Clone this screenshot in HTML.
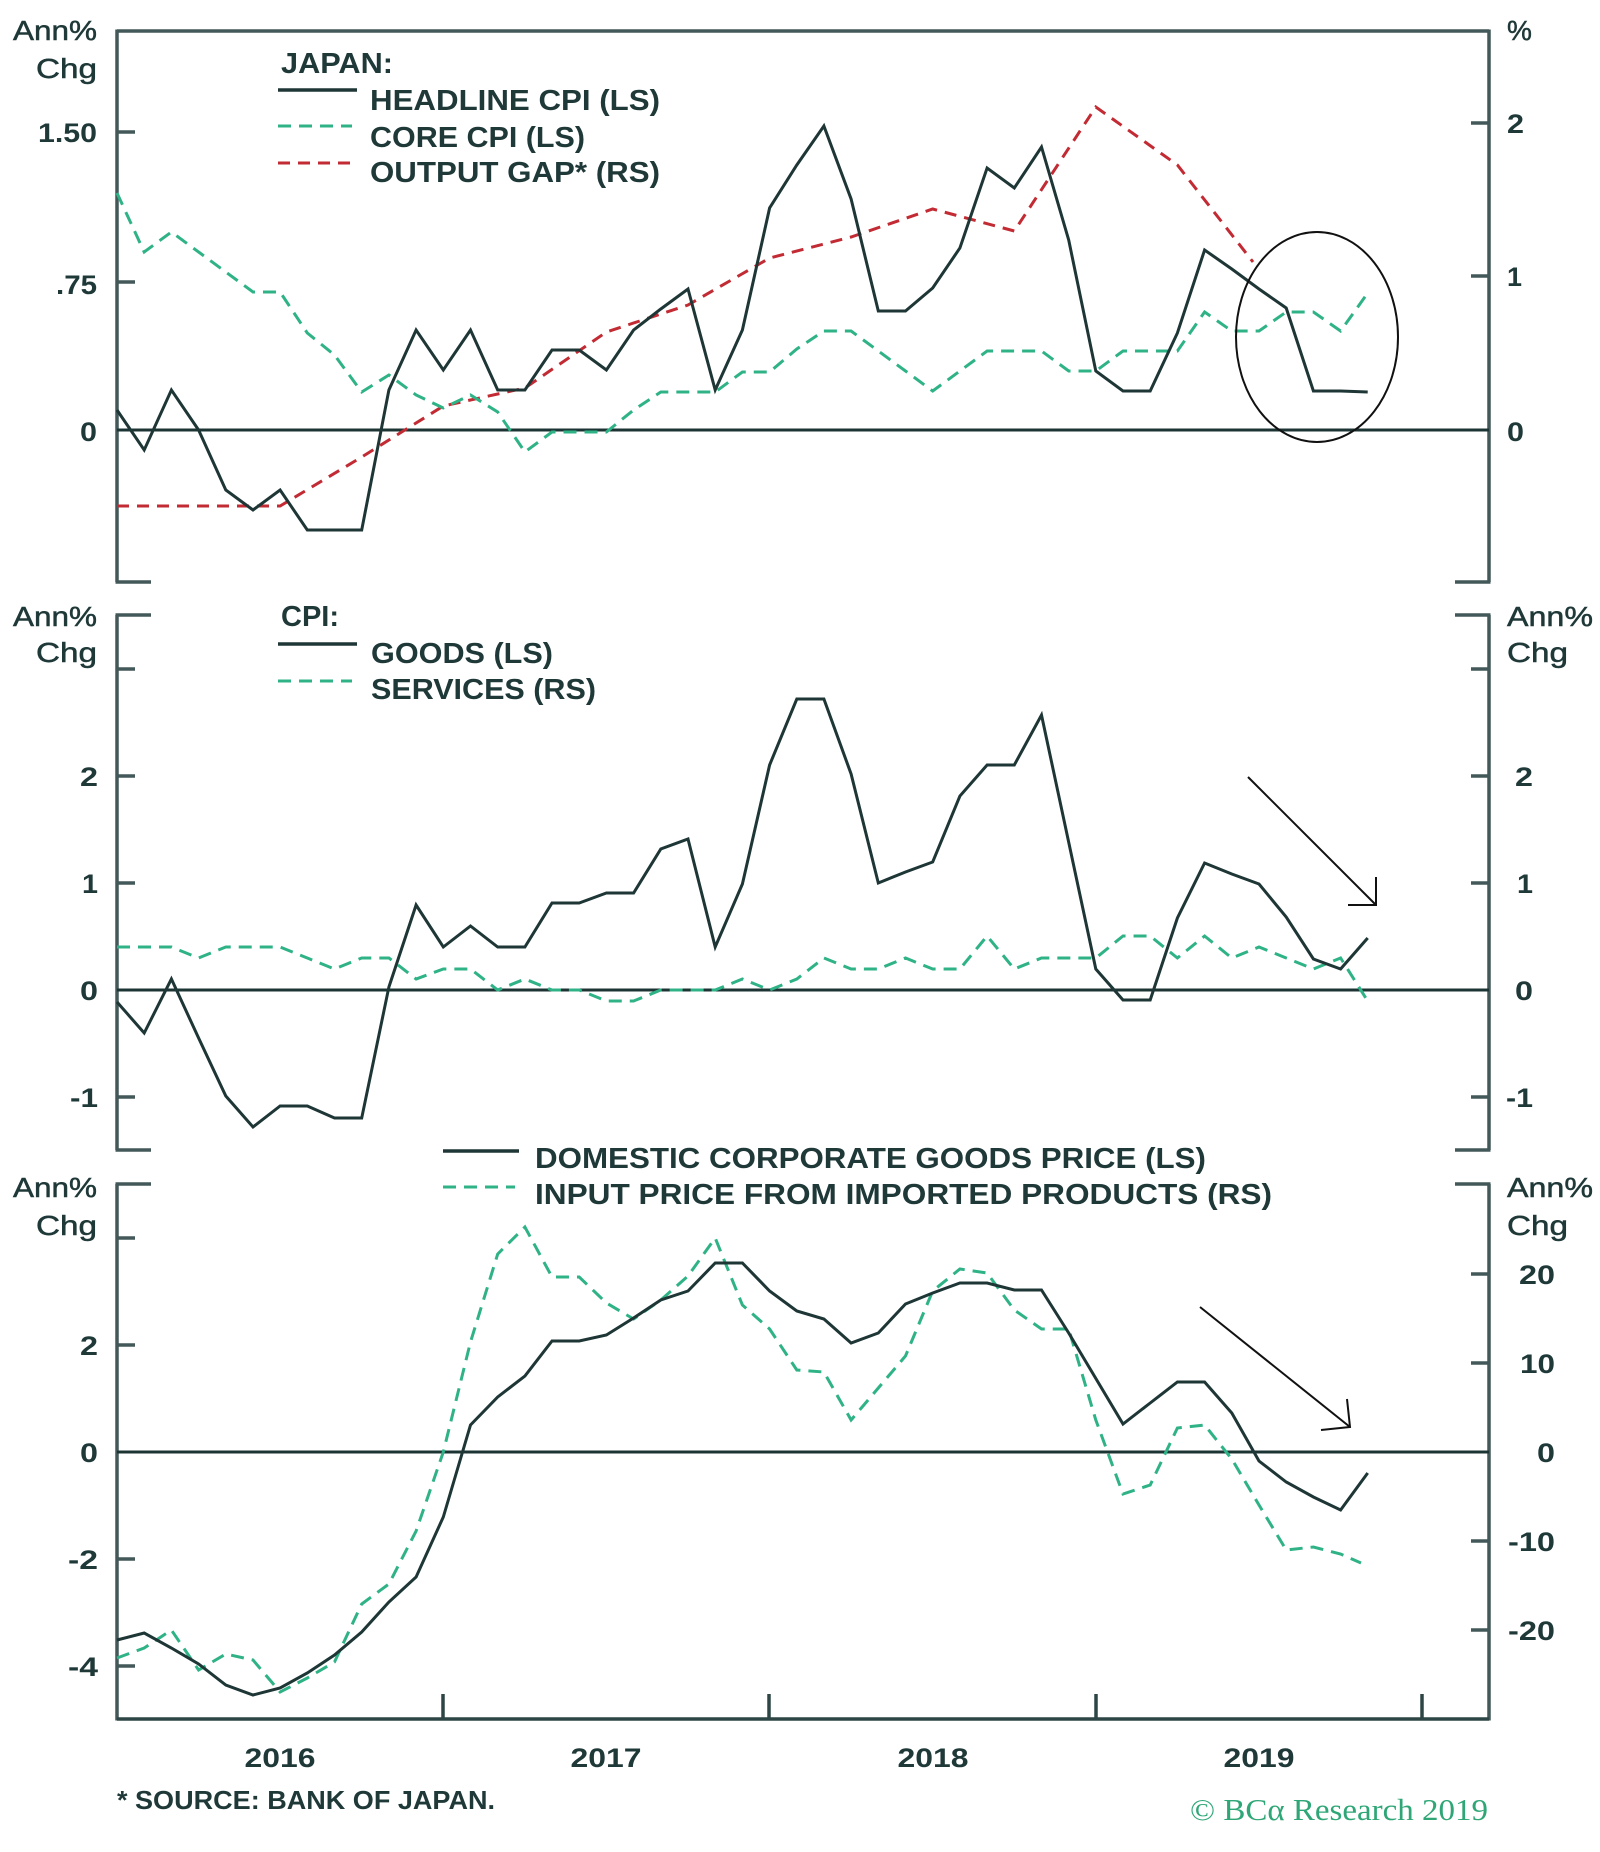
<!DOCTYPE html>
<html>
<head>
<meta charset="utf-8">
<style>
  html,body{margin:0;padding:0;background:#fff;}
  svg{display:block;}
  .ax{stroke:#435858;stroke-width:3.5;fill:none;}
  .zero{stroke:#1c3434;stroke-width:3;fill:none;}
  .solid{stroke:#1e3636;stroke-width:3;fill:none;stroke-linejoin:miter;stroke-miterlimit:4;}
  .grn{stroke:#2fb386;stroke-width:3;fill:none;stroke-dasharray:13 8;}
  .red{stroke:#c22b33;stroke-width:3;fill:none;stroke-dasharray:12 8;}
  .lbl{font-family:"Liberation Sans",sans-serif;font-size:27px;font-weight:bold;fill:#1f3838;}
  .unit{font-family:"Liberation Sans",sans-serif;font-size:28px;font-weight:normal;fill:#1f3838;stroke:#1f3838;stroke-width:0.5;}
  .leg{font-family:"Liberation Sans",sans-serif;font-size:29px;font-weight:bold;fill:#1f3838;}
  .src{font-family:"Liberation Sans",sans-serif;font-size:26px;font-weight:bold;fill:#1f3838;}
  .bca{font-family:"Liberation Serif",serif;font-size:31px;fill:#2ea676;}
  .arr{stroke:#111;stroke-width:2;fill:none;}
</style>
</head>
<body>
<svg width="1600" height="1852" viewBox="0 0 1600 1852" xmlns="http://www.w3.org/2000/svg">
<rect x="0" y="0" width="1600" height="1852" fill="#fff"/>

<!-- ================= PANEL 1 ================= -->
<g>
  <line class="ax" x1="117" y1="31" x2="1489" y2="31"/>
  <line class="ax" x1="117" y1="29.5" x2="117" y2="582"/>
  <line class="ax" x1="1489" y1="29.5" x2="1489" y2="582"/>
  <line class="ax" x1="115.5" y1="582" x2="151" y2="582"/>
  <line class="ax" x1="1455" y1="582" x2="1490.5" y2="582"/>
  <line class="ax" x1="117" y1="132" x2="135" y2="132"/>
  <line class="ax" x1="117" y1="282" x2="135" y2="282"/>
  <line class="ax" x1="1471" y1="123" x2="1489" y2="123"/>
  <line class="ax" x1="1471" y1="276" x2="1489" y2="276"/>
  <line class="zero" x1="117" y1="430" x2="1489" y2="430"/>

  <text class="unit" x="97" y="40" text-anchor="end" textLength="84" lengthAdjust="spacingAndGlyphs">Ann%</text>
  <text class="unit" x="97" y="78" text-anchor="end" textLength="61" lengthAdjust="spacingAndGlyphs">Chg</text>
  <text class="lbl" x="97" y="142" text-anchor="end" textLength="59" lengthAdjust="spacingAndGlyphs">1.50</text>
  <text class="lbl" x="97" y="294" text-anchor="end" textLength="41" lengthAdjust="spacingAndGlyphs">.75</text>
  <text class="lbl" x="97" y="441" text-anchor="end" textLength="17" lengthAdjust="spacingAndGlyphs">0</text>
  <text class="unit" x="1507" y="40">%</text>
  <text class="lbl" x="1507" y="133" textLength="17" lengthAdjust="spacingAndGlyphs">2</text>
  <text class="lbl" x="1507" y="286" textLength="15" lengthAdjust="spacingAndGlyphs">1</text>
  <text class="lbl" x="1507" y="441" textLength="17" lengthAdjust="spacingAndGlyphs">0</text>

  <text class="leg" x="281" y="73" textLength="112" lengthAdjust="spacingAndGlyphs">JAPAN:</text>
  <line class="solid" x1="278" y1="90" x2="357" y2="90" style="stroke-width:3.5"/>
  <text class="leg" x="370" y="110" textLength="290" lengthAdjust="spacingAndGlyphs">HEADLINE CPI (LS)</text>
  <line class="grn" x1="278" y1="126" x2="352" y2="126"/>
  <text class="leg" x="370" y="147" textLength="215" lengthAdjust="spacingAndGlyphs">CORE CPI (LS)</text>
  <line class="red" x1="278" y1="163" x2="352" y2="163"/>
  <text class="leg" x="370" y="182" textLength="290" lengthAdjust="spacingAndGlyphs">OUTPUT GAP* (RS)</text>

  <polyline class="red" points="117,506 280.1,506 361.7,457 443.3,406 524.9,388 606.4,332 688,305 769.6,258 851.1,237 932.7,209 1014.3,231 1095.8,107 1177.4,165 1253,262"/>
  <polyline class="grn" points="117,193 144.2,252 171.4,232 198.6,252 225.8,272 253,292 280.1,292 307.3,333 334.5,355 361.7,392 388.9,375 416.1,395 443.3,408 470.5,395 497.7,412 524.9,452 552,432 579.2,432 606.4,432 633.6,410 660.8,392 688,392 715.2,392 742.4,372 769.6,372 796.8,349 823.9,331 851.1,331 878.3,351 905.5,371 932.7,391 959.9,371 987.1,351 1014.3,351 1041.5,351 1068.7,371 1095.8,371 1123,351 1150.2,351 1177.4,351 1204.6,312 1231.8,331 1259,331 1286.2,312 1313.4,312 1340.6,331 1367.7,293"/>
  <polyline class="solid" points="117,410 144.2,450 171.4,390 198.6,430 225.8,490 253,510 280.1,490 307.3,530 334.5,530 361.7,530 388.9,390 416.1,330 443.3,370 470.5,330 497.7,390 524.9,390 552,350 579.2,350 606.4,370 633.6,330 660.8,309 688,289 715.2,390 742.4,330 769.6,208 796.8,165 823.9,126 851.1,199 878.3,311 905.5,311 932.7,288 959.9,248 987.1,168 1014.3,188 1041.5,147 1068.7,240 1095.8,371 1123,391 1150.2,391 1177.4,333 1204.6,250 1231.8,269 1259,289 1286.2,308 1313.4,391 1340.6,391 1367.7,392"/>

  <ellipse cx="1317" cy="337" rx="81" ry="105" fill="none" stroke="#111" stroke-width="2"/>
</g>

<!-- ================= PANEL 2 ================= -->
<g>
  <line class="ax" x1="115.5" y1="615" x2="151" y2="615"/>
  <line class="ax" x1="1455" y1="615" x2="1490.5" y2="615"/>
  <line class="ax" x1="117" y1="615" x2="117" y2="1150"/>
  <line class="ax" x1="1489" y1="615" x2="1489" y2="1150"/>
  <line class="ax" x1="115.5" y1="1150" x2="151" y2="1150"/>
  <line class="ax" x1="1455" y1="1150" x2="1490.5" y2="1150"/>
  <line class="ax" x1="117" y1="669" x2="135" y2="669"/>
  <line class="ax" x1="117" y1="776" x2="135" y2="776"/>
  <line class="ax" x1="117" y1="883" x2="135" y2="883"/>
  <line class="ax" x1="117" y1="1097" x2="135" y2="1097"/>
  <line class="ax" x1="1471" y1="669" x2="1489" y2="669"/>
  <line class="ax" x1="1471" y1="776" x2="1489" y2="776"/>
  <line class="ax" x1="1471" y1="883" x2="1489" y2="883"/>
  <line class="ax" x1="1471" y1="1097" x2="1489" y2="1097"/>
  <line class="zero" x1="117" y1="990" x2="1489" y2="990"/>

  <text class="unit" x="97" y="626" text-anchor="end" textLength="84" lengthAdjust="spacingAndGlyphs">Ann%</text>
  <text class="unit" x="97" y="662" text-anchor="end" textLength="61" lengthAdjust="spacingAndGlyphs">Chg</text>
  <text class="lbl" x="98" y="786" text-anchor="end" textLength="18" lengthAdjust="spacingAndGlyphs">2</text>
  <text class="lbl" x="98" y="893" text-anchor="end" textLength="16" lengthAdjust="spacingAndGlyphs">1</text>
  <text class="lbl" x="98" y="1000" text-anchor="end" textLength="18" lengthAdjust="spacingAndGlyphs">0</text>
  <text class="lbl" x="98" y="1107" text-anchor="end" textLength="28" lengthAdjust="spacingAndGlyphs">-1</text>
  <text class="unit" x="1507" y="626" textLength="86" lengthAdjust="spacingAndGlyphs">Ann%</text>
  <text class="unit" x="1507" y="662" textLength="61" lengthAdjust="spacingAndGlyphs">Chg</text>
  <text class="lbl" x="1533" y="786" text-anchor="end" textLength="18" lengthAdjust="spacingAndGlyphs">2</text>
  <text class="lbl" x="1533" y="893" text-anchor="end" textLength="16" lengthAdjust="spacingAndGlyphs">1</text>
  <text class="lbl" x="1533" y="1000" text-anchor="end" textLength="18" lengthAdjust="spacingAndGlyphs">0</text>
  <text class="lbl" x="1533" y="1107" text-anchor="end" textLength="27" lengthAdjust="spacingAndGlyphs">-1</text>

  <text class="leg" x="281" y="626" textLength="58" lengthAdjust="spacingAndGlyphs">CPI:</text>
  <line class="solid" x1="278" y1="644" x2="357" y2="644" style="stroke-width:3.5"/>
  <text class="leg" x="371" y="663" textLength="182" lengthAdjust="spacingAndGlyphs">GOODS (LS)</text>
  <line class="grn" x1="278" y1="681" x2="352" y2="681"/>
  <text class="leg" x="371" y="699" textLength="225" lengthAdjust="spacingAndGlyphs">SERVICES (RS)</text>

  <polyline class="grn" points="117,947 144.2,947 171.4,947 198.6,958 225.8,947 253,947 280.1,947 307.3,958 334.5,969 361.7,958 388.9,958 416.1,979 443.3,969 470.5,969 497.7,990 524.9,979 552,990 579.2,990 606.4,1001 633.6,1001 660.8,990 688,990 715.2,990 742.4,979 769.6,990 796.8,979 823.9,958 851.1,969 878.3,969 905.5,958 932.7,969 959.9,969 987.1,936 1014.3,969 1041.5,958 1068.7,958 1095.8,958 1123,936 1150.2,936 1177.4,958 1204.6,936 1231.8,958 1259,947 1286.2,958 1313.4,969 1340.6,958 1367.7,1001"/>
  <polyline class="solid" points="117,1002 144.2,1033 171.4,979 198.6,1038 225.8,1096 253,1127 280.1,1106 307.3,1106 334.5,1118 361.7,1118 388.9,987 416.1,905 443.3,947 470.5,926 497.7,947 524.9,947 552,903 579.2,903 606.4,893 633.6,893 660.8,849 688,839 715.2,947 742.4,884 769.6,765 796.8,699 823.9,699 851.1,774 878.3,883 905.5,872 932.7,862 959.9,796 987.1,765 1014.3,765 1041.5,715 1095.8,969 1123,1000 1150.2,1000 1177.4,918 1204.6,863 1231.8,874 1259,884 1286.2,917 1313.4,959 1340.6,969 1367.7,938"/>

  <line class="arr" x1="1248" y1="777" x2="1376" y2="905"/>
  <polyline class="arr" points="1348,905 1376,905 1376,877"/>
</g>

<!-- ================= PANEL 3 ================= -->
<g>
  <line class="ax" x1="115.5" y1="1184" x2="151" y2="1184"/>
  <line class="ax" x1="1455" y1="1184" x2="1490.5" y2="1184"/>
  <line class="ax" x1="117" y1="1184" x2="117" y2="1720.5"/>
  <line class="ax" x1="1489" y1="1184" x2="1489" y2="1720.5"/>
  <line class="ax" x1="117" y1="1719" x2="1489" y2="1719" style="stroke:#2e4545"/>
  <line class="ax" x1="443" y1="1694" x2="443" y2="1719" style="stroke:#2e4545"/>
  <line class="ax" x1="769" y1="1694" x2="769" y2="1719" style="stroke:#2e4545"/>
  <line class="ax" x1="1096" y1="1694" x2="1096" y2="1719" style="stroke:#2e4545"/>
  <line class="ax" x1="1422" y1="1694" x2="1422" y2="1719" style="stroke:#2e4545"/>
  <line class="ax" x1="117" y1="1238" x2="135" y2="1238"/>
  <line class="ax" x1="117" y1="1345" x2="135" y2="1345"/>
  <line class="ax" x1="117" y1="1559" x2="135" y2="1559"/>
  <line class="ax" x1="117" y1="1666" x2="135" y2="1666"/>
  <line class="ax" x1="1471" y1="1274" x2="1489" y2="1274"/>
  <line class="ax" x1="1471" y1="1363" x2="1489" y2="1363"/>
  <line class="ax" x1="1471" y1="1541" x2="1489" y2="1541"/>
  <line class="ax" x1="1471" y1="1630" x2="1489" y2="1630"/>
  <line class="zero" x1="117" y1="1452" x2="1489" y2="1452"/>

  <text class="unit" x="97" y="1197" text-anchor="end" textLength="84" lengthAdjust="spacingAndGlyphs">Ann%</text>
  <text class="unit" x="97" y="1235" text-anchor="end" textLength="61" lengthAdjust="spacingAndGlyphs">Chg</text>
  <text class="lbl" x="98" y="1355" text-anchor="end" textLength="18" lengthAdjust="spacingAndGlyphs">2</text>
  <text class="lbl" x="98" y="1462" text-anchor="end" textLength="18" lengthAdjust="spacingAndGlyphs">0</text>
  <text class="lbl" x="98" y="1569" text-anchor="end" textLength="30" lengthAdjust="spacingAndGlyphs">-2</text>
  <text class="lbl" x="98" y="1676" text-anchor="end" textLength="30" lengthAdjust="spacingAndGlyphs">-4</text>
  <text class="unit" x="1507" y="1197" textLength="86" lengthAdjust="spacingAndGlyphs">Ann%</text>
  <text class="unit" x="1507" y="1235" textLength="61" lengthAdjust="spacingAndGlyphs">Chg</text>
  <text class="lbl" x="1555" y="1284" text-anchor="end" textLength="36" lengthAdjust="spacingAndGlyphs">20</text>
  <text class="lbl" x="1555" y="1373" text-anchor="end" textLength="35" lengthAdjust="spacingAndGlyphs">10</text>
  <text class="lbl" x="1555" y="1462" text-anchor="end" textLength="18" lengthAdjust="spacingAndGlyphs">0</text>
  <text class="lbl" x="1555" y="1551" text-anchor="end" textLength="47" lengthAdjust="spacingAndGlyphs">-10</text>
  <text class="lbl" x="1555" y="1640" text-anchor="end" textLength="47" lengthAdjust="spacingAndGlyphs">-20</text>

  <text class="lbl" x="280" y="1767" text-anchor="middle" textLength="71" lengthAdjust="spacingAndGlyphs">2016</text>
  <text class="lbl" x="606" y="1767" text-anchor="middle" textLength="71" lengthAdjust="spacingAndGlyphs">2017</text>
  <text class="lbl" x="933" y="1767" text-anchor="middle" textLength="71" lengthAdjust="spacingAndGlyphs">2018</text>
  <text class="lbl" x="1259" y="1767" text-anchor="middle" textLength="71" lengthAdjust="spacingAndGlyphs">2019</text>

  <line class="solid" x1="443" y1="1151" x2="519" y2="1151" style="stroke-width:3.5"/>
  <text class="leg" x="535" y="1168" textLength="671" lengthAdjust="spacingAndGlyphs">DOMESTIC CORPORATE GOODS PRICE (LS)</text>
  <line class="grn" x1="443" y1="1187" x2="515" y2="1187"/>
  <text class="leg" x="535" y="1204" textLength="737" lengthAdjust="spacingAndGlyphs">INPUT PRICE FROM IMPORTED PRODUCTS (RS)</text>

  <polyline class="grn" points="117,1658 144.2,1648 171.4,1630 198.6,1670 225.8,1654 253,1660 280.1,1692 307.3,1678 334.5,1662 361.7,1604 388.9,1584 416.1,1531 443.3,1452 470.5,1342 497.7,1254 524.9,1227 552,1277 579.2,1277 606.4,1303 633.6,1319 660.8,1300 688,1276 715.2,1238 742.4,1305 769.6,1329 796.8,1370 823.9,1372 851.1,1420 878.3,1388 905.5,1356 932.7,1291 959.9,1269 987.1,1273 1014.3,1310 1041.5,1329 1068.7,1329 1095.8,1420 1123,1494 1150.2,1485 1177.4,1428 1204.6,1425 1231.8,1459 1259,1505 1286.2,1550 1313.4,1547 1340.6,1554 1361,1563"/>
  <polyline class="solid" points="117,1640 144.2,1633 171.4,1648 198.6,1664 225.8,1685 253,1695 280.1,1688 307.3,1673 334.5,1655 361.7,1632 388.9,1602 416.1,1577 443.3,1517 470.5,1425 497.7,1397 524.9,1376 552,1341 579.2,1341 606.4,1335 633.6,1318 660.8,1300 688,1291 715.2,1263 742.4,1263 769.6,1291 796.8,1311 823.9,1319 851.1,1343 878.3,1333 905.5,1304 932.7,1293 959.9,1283 987.1,1283 1014.3,1290 1041.5,1290 1068.7,1333 1123,1424 1150.2,1403 1177.4,1382 1204.6,1382 1231.8,1413 1259,1461 1286.2,1482 1313.4,1497 1340.6,1510 1367.7,1473"/>

  <line class="arr" x1="1200" y1="1307" x2="1350" y2="1427"/>
  <polyline class="arr" points="1321,1430 1350,1427 1347,1399"/>

  <text class="src" x="117" y="1809" textLength="378" lengthAdjust="spacingAndGlyphs">* SOURCE: BANK OF JAPAN.</text>
  <text class="bca" x="1190" y="1820" textLength="298" lengthAdjust="spacingAndGlyphs">© BCα Research 2019</text>
</g>
</svg>
</body>
</html>
